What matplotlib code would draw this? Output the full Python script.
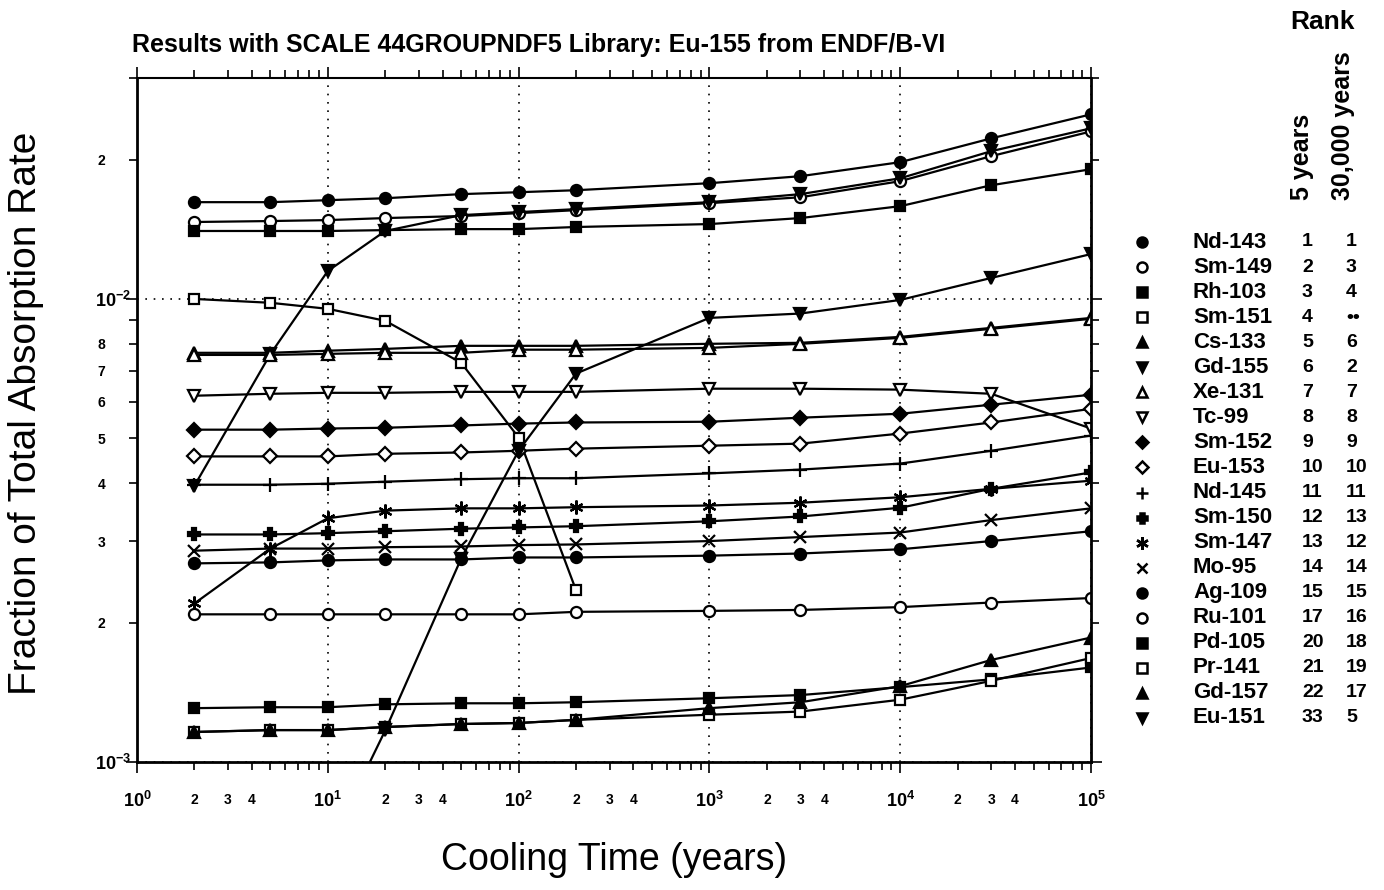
import numpy as np
import matplotlib
matplotlib.use('Agg')
import matplotlib.pyplot as plt
from matplotlib.ticker import LogLocator, FuncFormatter

plt.rcParams['font.family'] = ['Liberation Sans', 'DejaVu Sans']
plt.rcParams['mathtext.fontset'] = 'custom'
plt.rcParams['mathtext.rm'] = 'Liberation Sans'
plt.rcParams['mathtext.bf'] = 'Liberation Sans:bold'

# cooling times (years)
years = [2, 5, 10, 20, 50, 100, 200, 1000, 3000, 10000, 30000, 100000]

# fraction of total absorption rate
nd143 = [0.01618, 0.01618, 0.01634, 0.01650, 0.01684, 0.01700, 0.01717, 0.01778, 0.01841, 0.01974, 0.02222, 0.02504]
sm149 = [0.01466, 0.01473, 0.01480, 0.01495, 0.01510, 0.01532, 0.01555, 0.01610, 0.01658, 0.01796, 0.02034, 0.02300]
rh103 = [0.01402, 0.01402, 0.01402, 0.01408, 0.01415, 0.01415, 0.01430, 0.01451, 0.01495, 0.01586, 0.01760, 0.01906]
sm151 = [0.01000, 0.00981, 0.00952, 0.00897, 0.00728, 0.00502, 0.00235]
cs133 = [0.00765, 0.00765, 0.00773, 0.00780, 0.00792, 0.00792, 0.00792, 0.00800, 0.00804, 0.00828, 0.00866, 0.00910]
gd155 = [0.00395, 0.00760, 0.01149, 0.01402, 0.01517, 0.01540, 0.01563, 0.01618, 0.01684, 0.01822, 0.02085, 0.02336]
xe131 = [0.00757, 0.00757, 0.00761, 0.00765, 0.00765, 0.00777, 0.00777, 0.00784, 0.00800, 0.00824, 0.00862, 0.00906]
tc99 = [0.00618, 0.00624, 0.00627, 0.00627, 0.00630, 0.00630, 0.00630, 0.00640, 0.00640, 0.00637, 0.00624, 0.00525]
sm152 = [0.00522, 0.00522, 0.00525, 0.00527, 0.00533, 0.00538, 0.00541, 0.00543, 0.00554, 0.00565, 0.00591, 0.00621]
eu153 = [0.00457, 0.00457, 0.00457, 0.00463, 0.00466, 0.00470, 0.00475, 0.00482, 0.00487, 0.00512, 0.00541, 0.00579]
nd145 = [0.00397, 0.00397, 0.00399, 0.00403, 0.00408, 0.00410, 0.00410, 0.00420, 0.00428, 0.00441, 0.00470, 0.00507]
sm150 = [0.00310, 0.00310, 0.00312, 0.00315, 0.00319, 0.00321, 0.00323, 0.00331, 0.00339, 0.00354, 0.00389, 0.00422]
sm147 = [0.00220, 0.00289, 0.00336, 0.00349, 0.00353, 0.00353, 0.00355, 0.00358, 0.00363, 0.00373, 0.00389, 0.00405]
mo95 = [0.00286, 0.00289, 0.00289, 0.00291, 0.00292, 0.00294, 0.00295, 0.00300, 0.00306, 0.00313, 0.00333, 0.00353]
ag109 = [0.002685, 0.002698, 0.002725, 0.002738, 0.002738, 0.002765, 0.002765, 0.00279, 0.00282, 0.00288, 0.00300, 0.00315]
ru101 = [0.002084, 0.002084, 0.002084, 0.002084, 0.002084, 0.002084, 0.00211, 0.00212, 0.00213, 0.00216, 0.00221, 0.00226]
pd105 = [0.001307, 0.001313, 0.001313, 0.001332, 0.001339, 0.001339, 0.001346, 0.001373, 0.001395, 0.001451, 0.001508, 0.001600]
pr141 = [0.001161, 0.001172, 0.001172, 0.001190, 0.001208, 0.001214, 0.001233, 0.001265, 0.001285, 0.001363, 0.001497, 0.001677]
gd157 = [0.001161, 0.001172, 0.001172, 0.001190, 0.001208, 0.001214, 0.001233, 0.001307, 0.001346, 0.001458, 0.001661, 0.001857]
eu151 = [0.00013, 0.00033, 0.00065, 0.00117, 0.00275, 0.00470, 0.00690, 0.00910, 0.00930, 0.00995, 0.01110, 0.01250]

names = ['Nd-143', 'Sm-149', 'Rh-103', 'Sm-151', 'Cs-133', 'Gd-155', 'Xe-131', 'Tc-99', 'Sm-152', 'Eu-153',
         'Nd-145', 'Sm-150', 'Sm-147', 'Mo-95', 'Ag-109', 'Ru-101', 'Pd-105', 'Pr-141', 'Gd-157', 'Eu-151']
values = [nd143, sm149, rh103, sm151, cs133, gd155, xe131, tc99, sm152, eu153,
          nd145, sm150, sm147, mo95, ag109, ru101, pd105, pr141, gd157, eu151]
rank_5y = ['1', '2', '3', '4', '5', '6', '7', '8', '9', '10', '11', '12', '13', '14', '15', '17', '20', '21', '22', '33']
rank_30ky = ['1', '3', '4', '••', '6', '2', '7', '8', '9', '10', '11', '13', '12', '14', '15', '16', '18', '19', '17', '5']

# marker, filled
styles = [('o', True), ('o', False), ('s', True), ('s', False), ('^', True), ('v', True), ('^', False),
          ('v', False), ('D', True), ('D', False), ('+', True), ('P', True), ((6, 2, 0), True), ('x', True),
          ('o', True), ('o', False), ('s', True), ('s', False), ('^', True), ('v', True)]

W, H = 1384, 890
fig = plt.figure(figsize=(W / 100, H / 100), dpi=100)
ax = fig.add_axes([137 / W, 1 - 762 / H, (1091 - 137) / W, (762 - 78) / H])

sizes = {'o': 8, 's': 7.5, '^': 8.5, 'v': 8.5, 'D': 7, '+': 10, 'P': 8, 'x': 8}
for vals, (mk, filled) in zip(values, styles):
    n = len(vals)
    ms = sizes.get(mk, 10) if isinstance(mk, str) else 10
    ax.plot(years[:n], vals, color='black', lw=1.6, marker=mk, ms=ms,
            mfc='black' if filled else 'white', mec='black', mew=1.6)

ax.set_xscale('log')
ax.set_yscale('log')
ax.set_xlim(1, 1e5)
ax.set_ylim(1e-3, 3e-2)


def major_fmt(v, pos):
    return r'$\mathbf{10^{%d}}$' % int(round(np.log10(v)))


def digit(v):
    return int(round(v / 10 ** np.floor(np.log10(v) + 1e-9)))


def x_minor_fmt(v, pos):
    d = digit(v)
    return str(d) if d in (2, 3, 4) else ''


def y_minor_fmt(v, pos):
    d = digit(v)
    if v < 9.5e-3:
        return str(d) if 2 <= d <= 8 else ''
    return str(d) if d == 2 else ''


ax.xaxis.set_major_locator(LogLocator(base=10, numticks=20))
ax.xaxis.set_minor_locator(LogLocator(base=10, subs=np.arange(2, 10), numticks=100))
ax.yaxis.set_major_locator(LogLocator(base=10, numticks=20))
ax.yaxis.set_minor_locator(LogLocator(base=10, subs=np.arange(2, 10), numticks=100))
ax.xaxis.set_major_formatter(FuncFormatter(major_fmt))
ax.xaxis.set_minor_formatter(FuncFormatter(x_minor_fmt))
ax.yaxis.set_major_formatter(FuncFormatter(major_fmt))
ax.yaxis.set_minor_formatter(FuncFormatter(y_minor_fmt))

ax.tick_params(which='both', direction='out', top=True, right=True, width=1.2)
ax.tick_params(which='major', length=8, labelsize=13)
ax.tick_params(which='minor', length=5.5, labelsize=10)
ax.tick_params(axis='x', which='major', pad=13)
ax.tick_params(axis='x', which='minor', pad=16.5)
ax.tick_params(axis='y', which='major', pad=22.5)
ax.tick_params(axis='y', which='minor', pad=23)
for lbl in ax.get_xticklabels(which='both') + ax.get_yticklabels(which='both'):
    lbl.set_fontweight('bold')
for lbl in ax.get_yticklabels(which='both'):
    lbl.set_horizontalalignment('left')

ax.grid(True, which='major', color='black', ls=(0, (1, 4)), lw=1.2)
for side in ['left', 'bottom', 'right']:
    ax.spines[side].set_linewidth(2)
ax.spines['top'].set_linewidth(1.5)

ax.set_xlabel('Cooling Time (years)', fontsize=27, labelpad=22)
ax.set_ylabel('Fraction of Total Absorption Rate', fontsize=28)
ax.yaxis.set_label_coords(-0.097, 0.51)

fig.text(132 / W, 1 - 45 / H, 'Results with SCALE 44GROUPNDF5 Library: Eu-155 from ENDF/B-VI',
         fontsize=18, fontweight='bold', ha='left', va='center')

# rank legend on the right, in pixel coordinates
lax = fig.add_axes([0, 0, 1, 1])
lax.set_xlim(0, W)
lax.set_ylim(H, 0)
lax.axis('off')

lax.text(1322, 22, 'Rank', fontsize=19, fontweight='bold', ha='center', va='center')
lax.text(1302, 200, '5 years', fontsize=18, fontweight='bold', rotation=90, ha='center', va='bottom')
lax.text(1343, 200, '30,000 years', fontsize=18, fontweight='bold', rotation=90, ha='center', va='bottom')

row0, step = 242, 25.05
for i, (name, (mk, filled)) in enumerate(zip(names, styles)):
    y = row0 + i * step
    ms = (sizes.get(mk, 10) if isinstance(mk, str) else 10) * 0.9
    lax.plot([1142], [y], ls='none', marker=mk, ms=ms, mfc='black' if filled else 'white',
             mec='black', mew=1.8)
    lax.text(1193, y, name, fontsize=16, fontweight='bold', ha='left', va='center')
    lax.text(1302, y, rank_5y[i], fontsize=14, fontweight='bold', ha='left', va='center')
    lax.text(1346, y, rank_30ky[i], fontsize=14, fontweight='bold', ha='left', va='center')

fig.savefig('out.png', dpi=100)
